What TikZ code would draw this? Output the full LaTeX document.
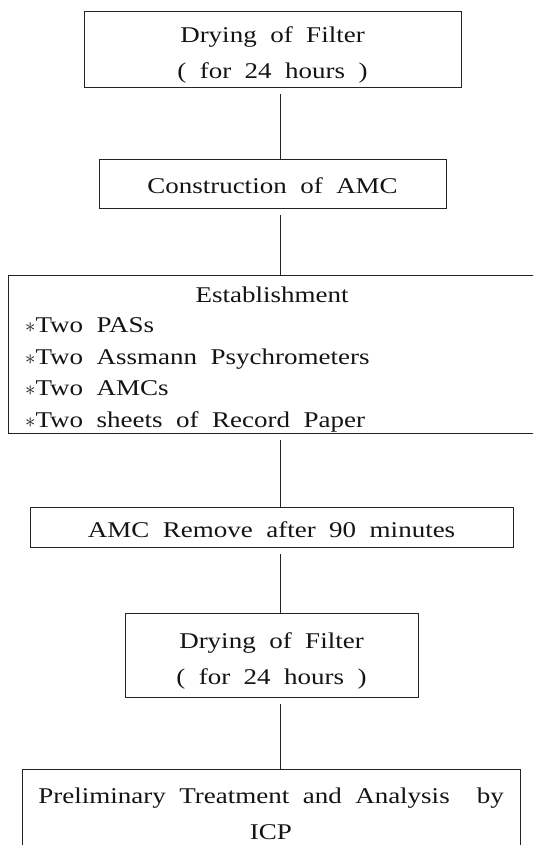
\documentclass[tikz,border=0pt]{standalone}
\usepackage{fontspec}
\setmainfont[FakeStretch=1.2,WordSpace=2]{Liberation Serif}
\usepackage{xcolor}
\definecolor{linecolor}{RGB}{35, 35, 35}
\definecolor{textcolor}{RGB}{20, 20, 20}

\begin{document}
\begin{tikzpicture}[x=1pt,y=-1pt,
        stepbox/.style={draw=linecolor,line width=0.9pt,inner sep=0pt,align=center,
            font=\fontsize{22.5}{36}\selectfont\color{textcolor}},
        textdrop/.style={execute at begin node={\rule{0pt}{#1}}},
        steptext/.style={inner sep=0pt,font=\fontsize{22.5}{31.5}\selectfont\color{textcolor}},
        link/.style={draw=linecolor,line width=0.9pt,shorten <=7pt}]
        % Page frame, boxes running off the edge are cut
        \useasboundingbox (0,0) rectangle (533,845);
        \clip (0,0) rectangle (533,845);
        \coordinate (spine) at (280,0);
        % Steps of the procedure
        \node[stepbox,minimum width=377,minimum height=76] (dry1) at (272.5,49) {\rule{0pt}{28pt}Drying of Filter\\( for 24 hours )};
        \node[stepbox,textdrop=21pt,minimum width=347,minimum height=49] (amc) at (272.5,183.5) {Construction of AMC};
        \node[stepbox,minimum width=545,minimum height=158] (est) at (281,354) {};
        \node[steptext] (esttitle) at (272,295) {Establishment};
        \node[steptext,anchor=west,align=left] (estlist) at (25,375)
            {$\ast$Two PASs\\$\ast$Two Assmann Psychrometers\\$\ast$Two AMCs\\$\ast$Two sheets of Record Paper};
        \node[stepbox,textdrop=21pt,minimum width=483,minimum height=40] (remove) at (271.5,527) {AMC Remove after 90 minutes};
        \node[stepbox,minimum width=293,minimum height=84] (dry2) at (271.5,655) {\rule{0pt}{28pt}Drying of Filter\\( for 24 hours )};
        \node[stepbox,minimum width=498,minimum height=90] (icp) at (271,814)
            {Preliminary Treatment and Analysis\ \ by\\ICP};
        % Connectors
        \draw[link] (dry1.south -| spine) -- (amc.north -| spine);
        \draw[link] (amc.south -| spine) -- (est.north -| spine);
        \draw[link] (est.south -| spine) -- (remove.north -| spine);
        \draw[link] (remove.south -| spine) -- (dry2.north -| spine);
        \draw[link] (dry2.south -| spine) -- (icp.north -| spine);
    \end{tikzpicture}
\end{document}
